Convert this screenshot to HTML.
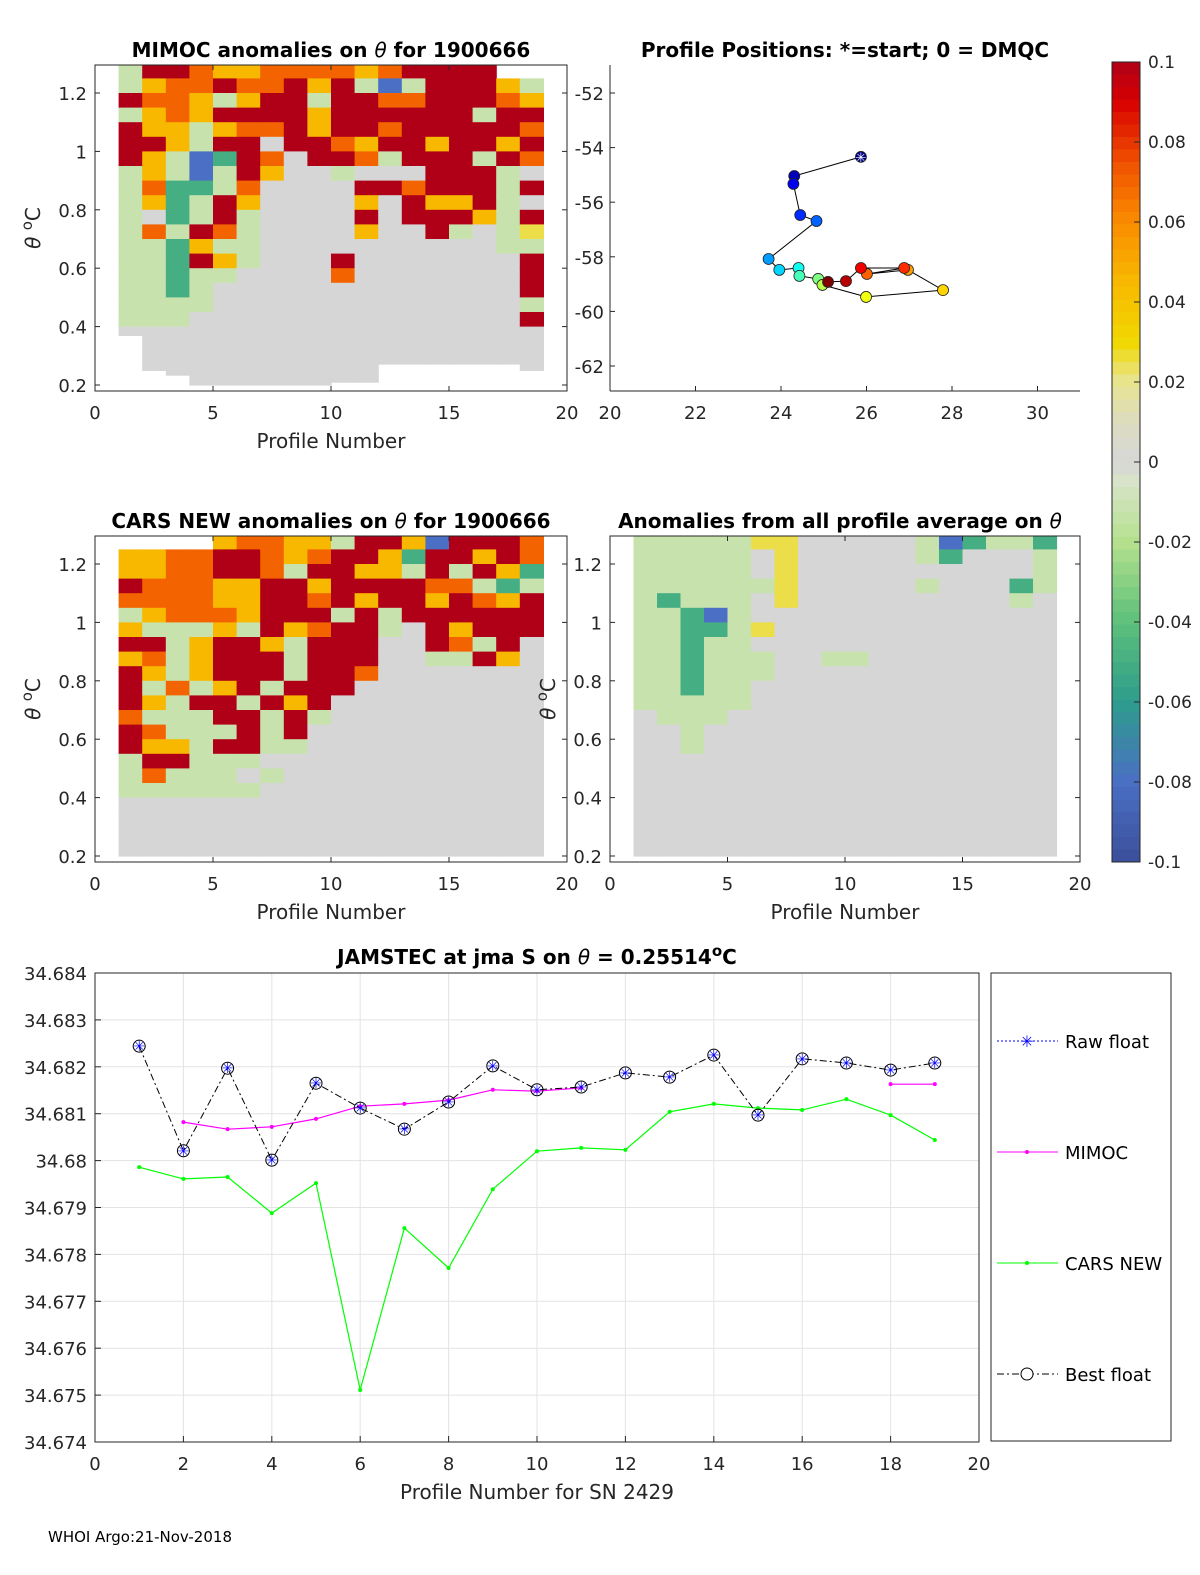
<!DOCTYPE html>
<html><head><meta charset="utf-8"><style>
html,body{margin:0;padding:0;background:#fff;overflow:hidden;width:1200px;height:1575px}
svg{display:block;font-family:"DejaVu Sans","Liberation Sans",sans-serif}
.tk{font-size:18px;fill:#262626}
.ttl{font-size:20px;font-weight:bold;fill:#000}
.al{font-size:20px;fill:#262626}
</style></head><body>
<svg id="fig" width="1200" height="1575" viewBox="0 0 1200 1575" xmlns="http://www.w3.org/2000/svg">
<text class="ttl" x="331" y="57" text-anchor="middle">MIMOC anomalies on <tspan font-style="italic" font-weight="normal">θ</tspan>  for 1900666</text>
<text class="ttl" x="845" y="57" text-anchor="middle">Profile Positions: *=start; 0 = DMQC</text>
<text class="ttl" x="331" y="528" text-anchor="middle">CARS NEW anomalies on <tspan font-style="italic" font-weight="normal">θ</tspan> for 1900666</text>
<text class="ttl" x="840" y="528" text-anchor="middle">Anomalies from all profile average on <tspan font-style="italic" font-weight="normal">θ</tspan></text>
<text class="ttl" x="537" y="964" text-anchor="middle">JAMSTEC at jma S on <tspan font-style="italic" font-weight="normal">θ</tspan> = 0.25514<tspan dy="-8" font-size="15">o</tspan><tspan dy="8">C</tspan></text>
<text x="48" y="1542" font-size="15" fill="#000">WHOI Argo:21-Nov-2018</text>
</svg>
<script>
const NS="http://www.w3.org/2000/svg";
const svg=document.getElementById('fig');
function mk(tag,attrs,parent){const e=document.createElementNS(NS,tag);for(const k in attrs)e.setAttribute(k,attrs[k]);(parent||svg).appendChild(e);return e;}
function txt(s,attrs,parent){const e=mk('text',attrs,parent);e.textContent=s;return e;}

// ---------- heatmap data ----------
const codeVals={R:0.1,r:0.09,O:0.07,Y:0.045,y:0.025,g:0,l:-0.012,G:-0.05,B:-0.08};
const mimocRows=["lRROYYOOOOYORRRR..","lYOOROORYRlBlRRRYl","ROOYlYRRlRROORRROY","lYOYRRRRYRRRRRRlRR","RYYlYOORYRRORRRRRO","RRYlRRgRROYRRYRRYR","RYlBGROgRROlRRRlRO","lYlBlRYgglgggRRRlg","lOGGlOggggRRORRRlR","lYGlRYggggYgRYYRlg","lgGlRlggggRgRRRYlR","lOlROlggggYggRlgly","llGYllggggggggggll","llGRYlgggRgggggggR","llGllggggOgggggggR","llGlgggggggggggggR","llllgggggggggggggl","lllggggggggggggggR"];
const mimocBottom=[0.37,0.25,0.234,0.19,0.19,0.18,0.18,0.18,0.18,0.21,0.21,0.272,0.272,0.272,0.272,0.272,0.272,0.25];
const carsRows=["....YOOYYlRRYBRRRO","YYOORROYORRYGRRYRO","YYOORROlRRYYlRlRYG","ROOOYYRRYRRRROOlGl","OOOOYYRRORYRRYROYR","lYOOOYRRRlRlRRRRRR","YlllYlRYORRlgRYRRR","RRlYRRYlRRRggROlRg","YOlYRRRlRRRggllRYg","RYlYRRRlRROggggggg","RlOlYRlRRRgggggggg","RYlRRlRYRggggggggg","OlllRRlRlggggggggg","ROlllRlRgggggggggg","RYYlRRllgggggggggg","lRRlllgggggggggggg","lOlllglggggggggggg","llllllgggggggggggg"];
const carsBottom=[0.18,0.18,0.18,0.18,0.18,0.18,0.18,0.18,0.18,0.18,0.18,0.19,0.19,0.19,0.19,0.19,0.19,0.18];
const avgRows=["lllllyyggggglBGllG","lllllgyggggglGgggl","lllllgyggggggggggl","llllllyggggglgggGl","lGlllgyggggggggglg","llGBlggggggggggggg","llGGlyggggggggggg","llGllggggggggggggg","llGlllggllgggggggg","llGlllgggggggggggg","llGllggggggggggggg","lllllggggggggggggg","glllgggggggggggggg","gglggggggggggggggg","gglggggggggggggggg"];
const avgBottom=[0.18,0.18,0.18,0.18,0.18,0.18,0.18,0.18,0.18,0.18,0.18,0.19,0.19,0.19,0.19,0.19,0.19,0.18];

const cstops=[[-0.1,[59,79,154]],[-0.08,[74,111,196]],[-0.06,[46,156,140]],[-0.04,[92,192,122]],[-0.02,[181,224,142]],[-0.005,[216,228,200]],[0,[214,214,214]],[0.01,[220,220,192]],[0.02,[232,228,144]],[0.03,[240,216,0]],[0.045,[248,184,0]],[0.06,[250,140,0]],[0.075,[240,80,0]],[0.09,[216,0,0]],[0.1,[176,0,24]]];
function cmap(v){v=Math.max(-0.1,Math.min(0.1,v));for(let i=1;i<cstops.length;i++){if(v<=cstops[i][0]){const a=cstops[i-1],b=cstops[i];const t=(v-a[0])/(b[0]-a[0]);const c=a[1].map((x,j)=>Math.round(x+(b[1][j]-x)*t));return `rgb(${c})`;}}return 'rgb(176,0,24)';}

function panel(x0,x1,yTop,yBot,th12y,name,rows,bottoms,opts){
  const xs=p=>x0+(p)*(x1-x0)/20;
  const ys=t=>th12y+(1.2-t)*292;
  const tTop=1.2+(th12y-yTop)/292;
  const g=mk('g',{},svg);
  
  
  for(let c=0;c<18;c++){
    for(let k=0;k<22;k++){
      const hi=Math.min(tTop,1.3-0.05*k), lo=Math.max(bottoms[c],1.3-0.05*(k+1));
      if(hi<=lo)continue;
      const ch=(rows[k]||'')[c]||'g';
      if(ch==='.')continue;
      const r=mk('rect',{x:xs(c+1).toFixed(1),y:ys(hi).toFixed(1),width:((x1-x0)/20+0.6).toFixed(1),height:(ys(lo)-ys(hi)+0.6).toFixed(1),fill:cmap(codeVals[ch])},g);
      
      
    }
  }
  const bx=mk('rect',{x:x0,y:yTop,width:x1-x0,height:yBot-yTop,fill:'none',stroke:'#262626','stroke-width':1},g);
  
  
  [0,5,10,15,20].forEach(v=>{
    const X=xs(v);
    mk('line',{x1:X,y1:yBot,x2:X,y2:yBot-5,stroke:'#262626'},g);
    mk('line',{x1:X,y1:yTop,x2:X,y2:yTop+5,stroke:'#262626'},g);
    const t=txt(String(v),{class:'tk',x:X,y:yBot+28,'text-anchor':'middle'},g);
    
    
  });
  [0.2,0.4,0.6,0.8,1,1.2].forEach(v=>{
    const Y=ys(v);
    mk('line',{x1:x0,y1:Y,x2:x0+5,y2:Y,stroke:'#262626'},g);
    mk('line',{x1:x1,y1:Y,x2:x1-5,y2:Y,stroke:'#262626'},g);
    const t=txt(String(v),{class:'tk',x:x0-8,y:Y+7,'text-anchor':'end'},g);
    
    
  });
  const yl=txt('',{class:'al',transform:`translate(${x0-55},${(yTop+yBot)/2}) rotate(-90)`,'text-anchor':'middle'},g);
  yl.innerHTML='<tspan font-style="italic">θ</tspan> <tspan dy="-8" font-size="15">o</tspan><tspan dy="8">C</tspan>';
  
  
  if(opts.xlabel){const xl=txt('Profile Number',{class:'al',x:(x0+x1)/2,y:yBot+57,'text-anchor':'middle'},g);
    
    }
}
panel(95,567,65,391,93,'mimoc-panel',mimocRows,mimocBottom,{xlabel:true});
panel(95,567,536,862,564,'cars-panel',carsRows,carsBottom,{xlabel:true});
panel(610,1080,536,862,564,'average-panel',avgRows,avgBottom,{xlabel:true});

// ---------- map ----------
const lons=[25.87,24.31,24.29,24.45,24.83,23.71,23.96,24.41,24.43,24.87,24.97,25.99,27.79,26.97,26.01,26.88,25.87,25.52,25.10];
const lats=[-54.34,-55.04,-55.33,-56.47,-56.69,-58.08,-58.48,-58.41,-58.70,-58.81,-59.03,-59.47,-59.22,-58.48,-58.63,-58.41,-58.41,-58.89,-58.92];
const mapTicksX=[20,22,24,26,28,30];
const mapTicksY=[-52,-54,-56,-58,-60,-62];
(function(){
  const mx=v=>610+(v-20)*42.75, my=v=>93+(-52-v)*27.3;
  const g=mk('g',{});
  
  
  mk('line',{x1:610,y1:65,x2:610,y2:391,stroke:'#262626'},g);
  mk('line',{x1:610,y1:391,x2:1080,y2:391,stroke:'#262626'},g);
  mapTicksX.forEach(v=>{mk('line',{x1:mx(v),y1:391,x2:mx(v),y2:386,stroke:'#262626'},g);
    const t=txt(String(v),{class:'tk',x:mx(v),y:419,'text-anchor':'middle'},g);
    
    });
  mapTicksY.forEach(v=>{mk('line',{x1:610,y1:my(v),x2:615,y2:my(v),stroke:'#262626'},g);
    const t=txt(String(v),{class:'tk',x:604,y:my(v)+7,'text-anchor':'end'},g);
    
    });
  let d='';lons.forEach((v,i)=>{d+=(i?'L':'M')+mx(v).toFixed(1)+' '+my(lats[i]).toFixed(1);});
  const p=mk('path',{d,fill:'none',stroke:'#000','stroke-width':1},g);
  
  
  function jet(t){const r=Math.min(1,Math.max(0,1.5-Math.abs(4*t-3))),gg=Math.min(1,Math.max(0,1.5-Math.abs(4*t-2))),b=Math.min(1,Math.max(0,1.5-Math.abs(4*t-1)));return `rgb(${Math.round(r*255)},${Math.round(gg*255)},${Math.round(b*255)})`;}
  lons.forEach((v,i)=>{
    const t=i/(lons.length-1);
    const c=mk('circle',{cx:mx(v),cy:my(lats[i]),r:5.5,fill:jet(t),stroke:'#222','stroke-width':0.8},g);
    
    
    if(i===0){const s=txt('✳',{x:mx(v),y:my(lats[i])+5,'text-anchor':'middle','font-size':13,fill:'#fff'},g);
      
      }
  });
})();

// ---------- colorbar ----------
const cbTicks=[0.1,0.08,0.06,0.04,0.02,0,-0.02,-0.04,-0.06,-0.08,-0.1];
(function(){
  const g=mk('g',{});
  
  
  const y0=62,y1=862,n=64;
  for(let i=0;i<n;i++){const v=0.1-(i+0.5)*0.2/n;
    mk('rect',{x:1112,y:y0+i*(y1-y0)/n,width:28,height:(y1-y0)/n+0.5,fill:cmap(v)},g);}
  mk('rect',{x:1112,y:y0,width:28,height:y1-y0,fill:'none',stroke:'#262626'},g);
  cbTicks.forEach(v=>{const Y=y0+(0.1-v)/0.2*(y1-y0);
    mk('line',{x1:1134,y1:Y,x2:1140,y2:Y,stroke:'#262626'},g);
    const t=txt(String(v),{x:1148,y:Y+6,'font-size':17,fill:'#262626'},g);
    
    });
})();

// ---------- salinity line chart ----------
const profiles=[1,2,3,4,5,6,7,8,9,10,11,12,13,14,15,16,17,18,19];
const bestFloat=[34.68244,34.68021,34.68197,34.68001,34.68165,34.68112,34.68067,34.68125,34.68202,34.68151,34.68157,34.68187,34.68178,34.68225,34.68097,34.68217,34.68208,34.68193,34.68208];
const mimocSal=[null,34.68082,34.68067,34.68072,34.68089,34.68116,34.68121,34.68129,34.68151,34.68148,34.68155,null,null,null,null,null,null,34.68163,34.68163];
const carsSal=[34.67986,34.67961,34.67965,34.67888,34.67952,34.67511,34.67856,34.67771,34.67939,34.68020,34.68027,34.68023,34.68104,34.68121,34.68112,34.68108,34.68131,34.68097,34.68044];
const salXTicks=[0,2,4,6,8,10,12,14,16,18,20];
const salYTicks=[34.674,34.675,34.676,34.677,34.678,34.679,34.68,34.681,34.682,34.683,34.684];
(function(){
  const X0=95,X1=979,Y0=973,Y1=1442;
  const sx=v=>X0+v*(X1-X0)/20, sy=v=>Y1-(v-34.674)/0.01*(Y1-Y0);
  const g=mk('g',{});
  
  
  const yl=txt('Salinity',{class:'al',transform:`translate(30,${(Y0+Y1)/2}) rotate(-90)`,'text-anchor':'middle'},g);
  
  
  mk('rect',{x:0,y:Y0-15,width:X0-6,height:Y1-Y0+30,fill:'#fff'},g);
  salXTicks.forEach(v=>{mk('line',{x1:sx(v),y1:Y0,x2:sx(v),y2:Y1,stroke:'#e3e3e3'},g);
    mk('line',{x1:sx(v),y1:Y1,x2:sx(v),y2:Y1-6,stroke:'#262626'},g);
    const t=txt(String(v),{class:'tk',x:sx(v),y:Y1+28,'text-anchor':'middle'},g);
    
    });
  salYTicks.forEach(v=>{mk('line',{x1:X0,y1:sy(v),x2:X1,y2:sy(v),stroke:'#e3e3e3'},g);
    mk('line',{x1:X0,y1:sy(v),x2:X0+6,y2:sy(v),stroke:'#262626'},g);
    const t=txt(String(v),{class:'tk',x:X0-8,y:sy(v)+7,'text-anchor':'end'},g);
    
    });
  mk('rect',{x:X0,y:Y0,width:X1-X0,height:Y1-Y0,fill:'none',stroke:'#262626'},g);
  const xl=txt('Profile Number for SN 2429',{class:'al',x:(X0+X1)/2,y:Y1+57,'text-anchor':'middle'},g);
  
  
  function path(arr,attrs,name){let d='',pen=false;arr.forEach((v,i)=>{if(v==null){pen=false;return;}d+=(pen?'L':'M')+sx(profiles[i]).toFixed(1)+' '+sy(v).toFixed(1);pen=true;});
    const p=mk('path',Object.assign({d,fill:'none'},attrs),g);
    
    }
  path(carsSal,{stroke:'#00ff00','stroke-width':1.2},'cars-line');
  carsSal.forEach((v,i)=>{const c=mk('circle',{cx:sx(profiles[i]),cy:sy(v),r:2,fill:'#00ff00'},g);
    
    });
  path(mimocSal,{stroke:'#ff00ff','stroke-width':1.2},'mimoc-line');
  mimocSal.forEach((v,i)=>{if(v==null)return;const c=mk('circle',{cx:sx(profiles[i]),cy:sy(v),r:2,fill:'#ff00ff'},g);
    
    });
  path(bestFloat,{stroke:'#000','stroke-width':1,'stroke-dasharray':'7 3 2 3'},'best-float-line');
  bestFloat.forEach((v,i)=>{const X=sx(profiles[i]),Y=sy(v);
    const c=mk('circle',{cx:X,cy:Y,r:6,fill:'none',stroke:'#000'},g);
    
    
    const s=txt('✳',{x:X,y:Y+5,'text-anchor':'middle','font-size':14,fill:'#0000ff'},g);
    
    });
  const lg=mk('g',{},svg);
  
  
  mk('rect',{x:991,y:973,width:180,height:468,fill:'#fff',stroke:'#262626'},lg);
  const ents=[['Raw float',1041,'#0000ff','2 2'],['MIMOC',1152,'#ff00ff',''],['CARS NEW',1263,'#00ff00',''],['Best float',1374,'#000','7 3 2 3']];
  ents.forEach((e,i)=>{
    const eg=mk('g',{},lg);
    
    
    mk('line',{x1:997,y1:e[1],x2:1058,y2:e[1],stroke:e[2],'stroke-dasharray':e[3]},eg);
    if(i===0)txt('✳',{x:1027,y:e[1]+6,'text-anchor':'middle','font-size':16,fill:'#0000ff'},eg);
    if(i===1||i===2)mk('circle',{cx:1027,cy:e[1],r:2,fill:e[2]},eg);
    if(i===3)mk('circle',{cx:1027,cy:e[1],r:6,fill:'#fff',stroke:'#000'},eg);
    txt(e[0],{x:1065,y:e[1]+7,'font-size':18,fill:'#000'},eg);
  });
})();
</script>
</body></html>
